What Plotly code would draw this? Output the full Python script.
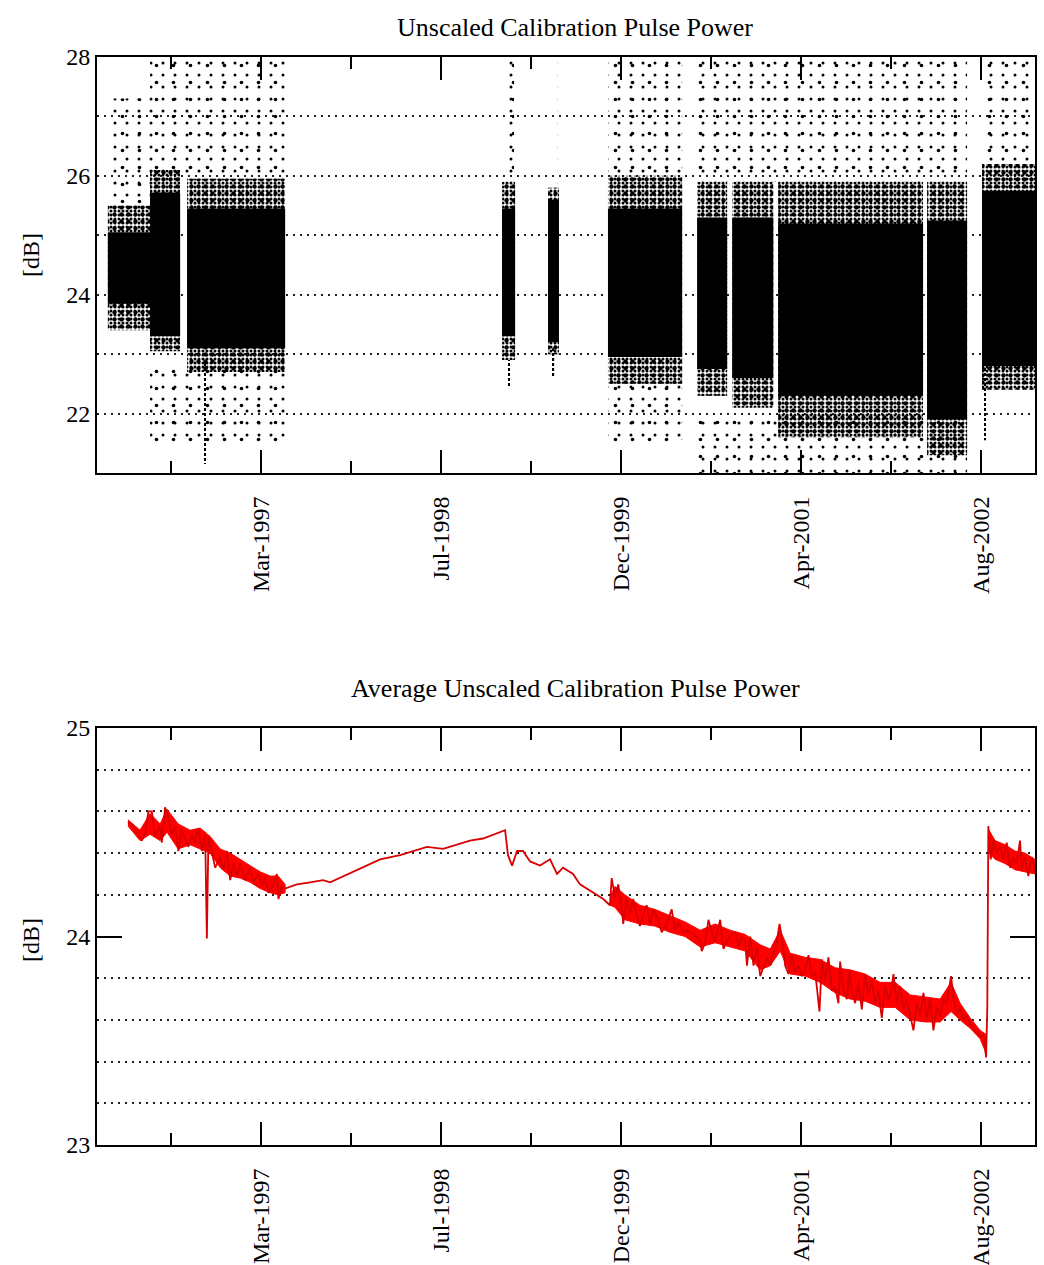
import numpy as np
import pandas as pd
import plotly.graph_objects as go

# ---------------- data (decimal years) ----------------
# Top panel: dense point clouds per observation block
blk_start = [1996.022, 1996.342, 1996.623, 1999.019, 1999.369, 1999.825, 2000.502, 2000.768, 2001.118, 2002.251, 2002.669]
blk_end   = [1996.342, 1996.570, 1997.368, 1999.118, 1999.452, 2000.388, 2000.730, 2001.080, 2002.220, 2002.555, 2003.072]
core_lo   = [23.85, 23.30, 23.10, 23.30, 23.20, 22.95, 22.75, 22.60, 22.30, 21.90, 22.80]
core_hi   = [25.05, 25.72, 25.45, 25.45, 25.60, 25.45, 25.30, 25.30, 25.20, 25.25, 25.75]
fringe_lo = [23.40, 23.05, 22.70, 22.90, 23.00, 22.50, 22.30, 22.10, 21.60, 21.30, 22.40]
fringe_hi = [25.50, 26.10, 25.95, 25.90, 25.80, 26.00, 25.90, 25.90, 25.90, 25.90, 26.20]

# sparse outlier regions (upper and lower scatter)
sp_start = [1996.022, 1996.342, 1996.342, 1999.030, 1999.390, 1999.825, 1999.825, 2000.502, 2000.502, 2002.669]
sp_end   = [1996.342, 1997.368, 1997.368, 1999.110, 1999.440, 2000.388, 2000.388, 2002.555, 2002.555, 2003.072]
sp_lo    = [25.50, 26.00, 21.50, 25.90, 25.80, 26.00, 21.50, 25.90, 21.00, 26.20]
sp_hi    = [27.30, 28.00, 22.80, 28.00, 28.00, 28.00, 22.50, 28.00, 22.00, 28.00]

# isolated vertical streaks of points
st_year = [1996.760, 2002.692, 1999.070, 1999.410]
st_lo   = [21.15, 21.55, 22.45, 22.60]
st_hi   = [22.90, 22.80, 22.90, 23.10]

# Bottom panel: average unscaled calibration pulse power
avg_year = [
    1996.174, 1996.215, 1996.253, 1996.279, 1996.304, 1996.329, 1996.355, 1996.380, 1996.418, 1996.431,
    1996.456, 1996.481, 1996.507, 1996.532, 1996.557, 1996.583, 1996.608, 1996.633, 1996.659, 1996.684,
    1996.709, 1996.735, 1996.760, 1996.773, 1996.785, 1996.811, 1996.836, 1996.874, 1996.899, 1996.925,
    1996.950, 1996.975, 1997.001, 1997.026, 1997.064, 1997.102, 1997.127, 1997.165, 1997.191, 1997.216,
    1997.241, 1997.279, 1997.305, 1997.317, 1997.343, 1997.368, 1997.457, 1997.559, 1997.657, 1997.711,
    1997.916, 1998.091, 1998.243, 1998.448, 1998.570, 1998.775, 1998.874, 1999.042, 1999.064, 1999.095,
    1999.133, 1999.178, 1999.232, 1999.308, 1999.384, 1999.437, 1999.483, 1999.559, 1999.612, 1999.713,
    1999.789, 1999.840, 1999.853, 1999.878, 1999.903, 1999.929, 1999.941, 1999.967, 1999.992, 2000.017,
    2000.043, 2000.068, 2000.093, 2000.119, 2000.144, 2000.169, 2000.207, 2000.233, 2000.271, 2000.309,
    2000.334, 2000.359, 2000.398, 2000.423, 2000.474, 2000.525, 2000.537, 2000.563, 2000.588, 2000.613,
    2000.639, 2000.677, 2000.702, 2000.728, 2000.766, 2000.791, 2000.816, 2000.842, 2000.867, 2000.880,
    2000.905, 2000.930, 2000.956, 2000.981, 2001.006, 2001.032, 2001.057, 2001.082, 2001.108, 2001.128,
    2001.146, 2001.171, 2001.196, 2001.222, 2001.247, 2001.272, 2001.298, 2001.323, 2001.348, 2001.374,
    2001.399, 2001.432, 2001.450, 2001.475, 2001.500, 2001.526, 2001.551, 2001.576, 2001.589, 2001.614,
    2001.640, 2001.660, 2001.678, 2001.703, 2001.728, 2001.754, 2001.779, 2001.804, 2001.830, 2001.855,
    2001.880, 2001.906, 2001.931, 2001.957, 2001.970, 2001.995, 2002.020, 2002.046, 2002.071, 2002.096,
    2002.122, 2002.147, 2002.172, 2002.198, 2002.223, 2002.249, 2002.274, 2002.299, 2002.325, 2002.350,
    2002.375, 2002.401, 2002.433, 2002.451, 2002.477, 2002.502, 2002.527, 2002.553, 2002.578, 2002.616,
    2002.654, 2002.679, 2002.700, 2002.709, 2002.717, 2002.735, 2002.755, 2002.781, 2002.806, 2002.831,
    2002.857, 2002.882, 2002.907, 2002.933, 2002.958, 2002.971, 2002.996, 2003.021, 2003.047, 2003.072,
]
avg_db = [
    24.55, 24.53, 24.49, 24.46, 24.49, 24.60, 24.60, 24.48, 24.53, 24.45,
    24.62, 24.57, 24.49, 24.53, 24.41, 24.51, 24.47, 24.43, 24.49, 24.45,
    24.52, 24.41, 24.49, 23.99, 24.48, 24.41, 24.33, 24.38, 24.32, 24.41,
    24.27, 24.35, 24.29, 24.35, 24.27, 24.33, 24.26, 24.30, 24.24, 24.28,
    24.21, 24.25, 24.30, 24.18, 24.24, 24.23, 24.25, 24.26, 24.27, 24.26,
    24.32, 24.37, 24.39, 24.43, 24.42, 24.46, 24.47, 24.51, 24.39, 24.34,
    24.41, 24.41, 24.36, 24.34, 24.37, 24.30, 24.33, 24.30, 24.25, 24.21,
    24.18, 24.15, 24.28, 24.19, 24.25, 24.14, 24.06, 24.18, 24.11, 24.18,
    24.10, 24.05, 24.11, 24.15, 24.06, 24.13, 24.08, 24.02, 24.06, 24.13,
    24.03, 24.07, 24.02, 24.03, 24.01, 23.98, 23.93, 23.97, 24.08, 24.02,
    23.98, 24.08, 23.94, 23.98, 24.01, 24.02, 23.95, 24.00, 23.98, 23.86,
    24.00, 23.86, 23.95, 23.81, 23.86, 23.90, 23.86, 23.92, 23.98, 24.06,
    23.99, 23.86, 23.82, 23.91, 23.83, 23.86, 23.81, 23.84, 23.91, 23.81,
    23.83, 23.64, 23.89, 23.79, 23.90, 23.74, 23.76, 23.68, 23.88, 23.74,
    23.70, 23.84, 23.74, 23.68, 23.78, 23.65, 23.82, 23.72, 23.79, 23.68,
    23.74, 23.61, 23.76, 23.70, 23.71, 23.82, 23.68, 23.76, 23.65, 23.70,
    23.62, 23.55, 23.68, 23.62, 23.73, 23.60, 23.70, 23.55, 23.66, 23.62,
    23.70, 23.68, 23.81, 23.71, 23.63, 23.66, 23.60, 23.62, 23.58, 23.55,
    23.52, 23.53, 23.42, 23.66, 24.53, 24.37, 24.46, 24.40, 24.43, 24.37,
    24.45, 24.33, 24.38, 24.35, 24.46, 24.32, 24.38, 24.29, 24.38, 24.31,
]

# envelope of the densely scattered parts of the average (three segments)
band_year_a = [1996.174, 1996.266, 1996.342, 1996.418, 1996.471, 1996.555, 1996.646, 1996.722, 1996.798,
               1996.874, 1996.950, 1997.026, 1997.102, 1997.178, 1997.254, 1997.315, 1997.368]
band_hi_a   = [24.56, 24.51, 24.59, 24.54, 24.61, 24.54, 24.51, 24.52, 24.48,
               24.42, 24.40, 24.37, 24.34, 24.31, 24.29, 24.29, 24.25]
band_lo_a   = [24.53, 24.46, 24.49, 24.46, 24.50, 24.42, 24.44, 24.42, 24.40,
               24.33, 24.29, 24.28, 24.26, 24.23, 24.21, 24.20, 24.21]
band_year_b = [1999.840, 1999.878, 1999.954, 2000.068, 2000.182, 2000.296, 2000.410, 2000.525, 2000.639,
               2000.753, 2000.867, 2000.981, 2001.057, 2001.133, 2001.209, 2001.323, 2001.437, 2001.551,
               2001.665, 2001.779, 2001.893, 2002.008, 2002.122, 2002.236, 2002.350, 2002.433, 2002.502,
               2002.578, 2002.654, 2002.700]
band_hi_b   = [24.19, 24.24, 24.20, 24.15, 24.13, 24.10, 24.07, 24.03, 24.06,
               24.03, 24.01, 23.96, 23.94, 24.03, 23.92, 23.90, 23.89, 23.85,
               23.84, 23.82, 23.78, 23.78, 23.72, 23.71, 23.70, 23.78, 23.68,
               23.61, 23.55, 23.53]
band_lo_b   = [24.15, 24.14, 24.08, 24.06, 24.05, 24.02, 24.00, 23.95, 23.97,
               23.95, 23.93, 23.84, 23.86, 23.93, 23.82, 23.81, 23.78, 23.73,
               23.70, 23.69, 23.66, 23.66, 23.60, 23.59, 23.59, 23.64, 23.60,
               23.56, 23.51, 23.44]
band_year_c = [2002.722, 2002.768, 2002.844, 2002.920, 2002.996, 2003.072]
band_hi_c   = [24.51, 24.46, 24.44, 24.41, 24.40, 24.37]
band_lo_c   = [24.40, 24.37, 24.35, 24.32, 24.31, 24.30]

# axis ticks
major_dates = ["1997-03-10", "1998-07-23", "1999-12-05", "2001-04-18", "2002-08-31"]
major_text = ["Mar-1997", "Jul-1998", "Dec-1999", "Apr-2001", "Aug-2002"]
minor_dates = ["1996-07-03", "1997-11-15", "1999-03-29", "2000-08-10", "2001-12-23"]
x_range_years = [1995.939, 2003.072]

top_title = "Unscaled Calibration Pulse Power"
bottom_title = "Average Unscaled Calibration Pulse Power"
y_label = "[dB]"


def yr2date(vals):
    out = []
    for v in vals:
        yi = int(np.floor(v))
        s = pd.Timestamp(year=yi, month=1, day=1)
        e = pd.Timestamp(year=yi + 1, month=1, day=1)
        out.append(s + (e - s) * (v - yi))
    return pd.DatetimeIndex(out)


def bar_geom(starts, ends):
    s = yr2date(starts)
    e = yr2date(ends)
    mid = s + (e - s) / 2
    width = [(b - a).total_seconds() * 1000 for a, b in zip(s, e)]
    return mid, width


FONT = "Liberation Serif"
fig = go.Figure()

# sparse outliers (two overlapping dot grids to break regularity)
mid, wid = bar_geom(sp_start, sp_end)
for size, sol in [(12, 0.05), (17, 0.035)]:
    fig.add_trace(go.Bar(
        x=mid, y=np.array(sp_hi) - np.array(sp_lo), base=sp_lo, width=wid,
        marker=dict(color="black", line=dict(width=0),
                    pattern=dict(shape=".", size=size, solidity=sol, fillmode="replace")),
        opacity=1, xaxis="x", yaxis="y", hoverinfo="skip"))

# fringe of dense clouds
mid, wid = bar_geom(blk_start, blk_end)
for size, sol in [(4, 0.45), (7, 0.3)]:
    fig.add_trace(go.Bar(
        x=mid, y=np.array(fringe_hi) - np.array(fringe_lo), base=fringe_lo, width=wid,
        marker=dict(color="black", line=dict(width=0),
                    pattern=dict(shape=".", size=size, solidity=sol, fillmode="replace")),
        opacity=1, xaxis="x", yaxis="y", hoverinfo="skip"))

# solid core
fig.add_trace(go.Bar(
    x=mid, y=np.array(core_hi) - np.array(core_lo), base=core_lo, width=wid,
    marker=dict(color="black", line=dict(width=0)),
    opacity=1, xaxis="x", yaxis="y", hoverinfo="skip"))

# streaks
st_dates = yr2date(st_year)
fig.add_trace(go.Bar(
    x=st_dates, y=np.array(st_hi) - np.array(st_lo), base=st_lo,
    width=[4 * 86400000] * len(st_year),
    marker=dict(color="black", line=dict(width=0),
                pattern=dict(shape="-", size=5, solidity=0.6, fillmode="replace")),
    opacity=1, xaxis="x", yaxis="y", hoverinfo="skip"))

# bottom: scatter envelope band (filled) + line
bx, by = [], []
for yrs, hi, lo in [(band_year_a, band_hi_a, band_lo_a),
                    (band_year_b, band_hi_b, band_lo_b),
                    (band_year_c, band_hi_c, band_lo_c)]:
    d = list(yr2date(yrs))
    bx += d + d[::-1] + [None]
    by += list(hi) + list(lo)[::-1] + [None]
fig.add_trace(go.Scatter(
    x=bx, y=by, mode="lines", fill="toself", fillcolor="#ff0000",
    line=dict(color="#ff0000", width=1), xaxis="x2", yaxis="y2", hoverinfo="skip"))
fig.add_trace(go.Scatter(
    x=yr2date(avg_year), y=avg_db, mode="lines",
    line=dict(color="#d80000", width=1.8), xaxis="x2", yaxis="y2", hoverinfo="skip"))

xr = yr2date(x_range_years)
tickfont = dict(family=FONT, size=24, color="black")
xaxis_common = dict(
    type="date", range=[xr[0], xr[1]], domain=[0, 1],
    showline=True, linewidth=2, linecolor="black", mirror="ticks",
    tickmode="array", tickvals=major_dates, ticktext=major_text,
    ticks="inside", ticklen=23, tickwidth=1.5, tickcolor="black",
    tickangle=-90, tickfont=dict(family=FONT, size=24, color="black"),
    showgrid=False, zeroline=False, automargin=False, ticklabelstandoff=12,
    minor=dict(tickmode="array", tickvals=minor_dates, ticks="inside", ticklen=12,
               tickwidth=1.5, tickcolor="black", showgrid=False),
)
GRID_DASH = "2px,5px"
fig.update_layout(
    width=1044, height=1265,
    margin=dict(l=97, r=9, t=0, b=0),
    paper_bgcolor="white", plot_bgcolor="white",
    barmode="overlay", showlegend=False,
    xaxis=dict(anchor="y", **xaxis_common),
    xaxis2=dict(anchor="y2", **xaxis_common),
    yaxis=dict(
        domain=[1 - 473 / 1265, 1 - 57 / 1265], range=[21, 28],
        showline=True, linewidth=2, linecolor="black", mirror=True,
        tickmode="array", tickvals=[22, 24, 26, 28], ticks="",
        tickfont=tickfont, showgrid=True, gridcolor="#222", gridwidth=1.5, griddash=GRID_DASH,
        zeroline=False, automargin=False,
        minor=dict(tickmode="array", tickvals=[21, 23, 25, 27], ticks="", showgrid=True,
                   gridcolor="#222", gridwidth=1.5, griddash=GRID_DASH),
    ),
    yaxis2=dict(
        domain=[1 - 1145 / 1265, 1 - 728 / 1265], range=[23, 25],
        showline=True, linewidth=2, linecolor="black", mirror="ticks",
        tickmode="array", tickvals=[23, 24, 25], ticks="inside", ticklen=25,
        tickwidth=1.5, tickcolor="black",
        tickfont=tickfont, showgrid=False, zeroline=False, automargin=False,
        minor=dict(tickmode="array",
                   tickvals=[23.2, 23.4, 23.6, 23.8, 24.2, 24.4, 24.6, 24.8],
                   ticks="", showgrid=True, gridcolor="#222", gridwidth=1.5, griddash=GRID_DASH),
    ),
    annotations=[
        dict(text=top_title, xref="paper", yref="paper", x=0.51, y=1 - 28 / 1265,
             xanchor="center", yanchor="middle",
             showarrow=False, font=dict(family=FONT, size=26, color="black")),
        dict(text=bottom_title, xref="paper", yref="paper", x=0.51, y=1 - 688 / 1265,
             xanchor="center", yanchor="middle",
             showarrow=False, font=dict(family=FONT, size=26, color="black")),
        dict(text=y_label, xref="paper", yref="paper", x=(31 - 97) / 938, y=1 - 255 / 1265,
             xanchor="center", yanchor="middle",
             textangle=-90, showarrow=False, font=dict(family=FONT, size=24, color="black")),
        dict(text=y_label, xref="paper", yref="paper", x=(31 - 97) / 938, y=1 - 940 / 1265,
             xanchor="center", yanchor="middle",
             textangle=-90, showarrow=False, font=dict(family=FONT, size=24, color="black")),
    ],
)

fig.write_html("out.html", config={"displayModeBar": False},
               post_script="document.body.style.margin='0px';")
